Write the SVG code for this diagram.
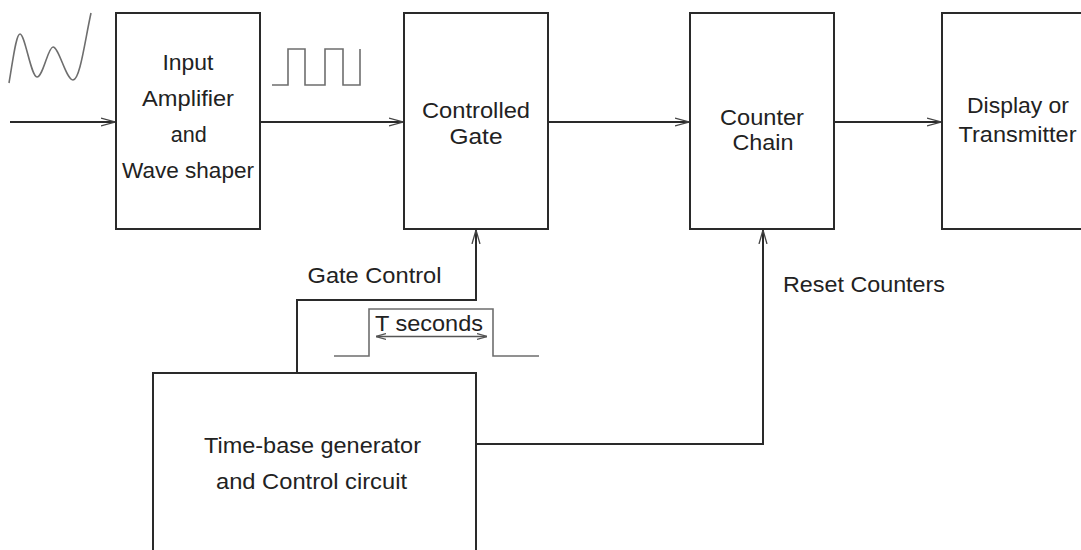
<svg xmlns="http://www.w3.org/2000/svg" width="1081" height="550" viewBox="0 0 1081 550">
<style>
.box{fill:#fff;stroke:#2a2a2a;stroke-width:2}
.conn{fill:none;stroke:#2a2a2a;stroke-width:2}
.wave{fill:none;stroke:#6e6e6e;stroke-width:1.6}
.lbl{font-family:"Liberation Sans",Arial,Helvetica,sans-serif;font-size:22px;fill:#222;text-anchor:middle}
</style>
<defs>
<marker id="arr" viewBox="0 0 14 10" refX="14" refY="5" markerWidth="14" markerHeight="10" markerUnits="userSpaceOnUse" orient="auto">
<path d="M0,1 L14,5 L0,9" fill="none" stroke="#444" stroke-width="1.3"/>
</marker>
<marker id="arrs" viewBox="0 0 10 8" refX="10" refY="4" markerWidth="10" markerHeight="8" markerUnits="userSpaceOnUse" orient="auto-start-reverse">
<path d="M0,1 L10,4 L0,7" fill="none" stroke="#555" stroke-width="1.2"/>
</marker>
</defs>
<rect width="1081" height="550" fill="#fff"/>

<g id="waveforms">
<path class="wave" d="M9,83 C13,60 16,34 20,34 C25,34 31,77 37,77 C43,77 48,47 53,47 C59,47 66,80 73,80 C80,80 85,40 91,13"/>
<path class="wave" d="M272,85 H288 V49 H305 V85 H325 V49 H343 V85 H360 V49"/>
<path class="wave" d="M334,356 H369 V309 H493 V356 H539"/>
</g>

<g id="connectors">
<path class="conn" d="M10,122 H115" marker-end="url(#arr)"/>
<path class="conn" d="M260,122 H403" marker-end="url(#arr)"/>
<path class="conn" d="M548,122 H689" marker-end="url(#arr)"/>
<path class="conn" d="M834,122 H941" marker-end="url(#arr)"/>
<path class="conn" d="M297,373 V300 H476 V230" marker-end="url(#arr)"/>
<path class="conn" d="M476,444 H763 V230" marker-end="url(#arr)"/>
<path d="M376,336.5 H487" fill="none" stroke="#555" stroke-width="1.3" marker-start="url(#arrs)" marker-end="url(#arrs)"/>
</g>

<g id="input-amplifier">
<rect class="box" x="116" y="13" width="144" height="216"/>
<text class="lbl" x="188" y="70" textLength="51" lengthAdjust="spacingAndGlyphs">Input</text>
<text class="lbl" x="188" y="106" textLength="92" lengthAdjust="spacingAndGlyphs">Amplifier</text>
<text class="lbl" x="188.7" y="142" textLength="36" lengthAdjust="spacingAndGlyphs">and</text>
<text class="lbl" x="188" y="178" textLength="132" lengthAdjust="spacingAndGlyphs">Wave shaper</text>
</g>

<g id="controlled-gate">
<rect class="box" x="404" y="13" width="144" height="216"/>
<text class="lbl" x="476" y="118" textLength="108" lengthAdjust="spacingAndGlyphs">Controlled</text>
<text class="lbl" x="476" y="143.5" textLength="53" lengthAdjust="spacingAndGlyphs">Gate</text>
</g>

<g id="counter-chain">
<rect class="box" x="690" y="13" width="144" height="216"/>
<text class="lbl" x="762" y="125" textLength="84" lengthAdjust="spacingAndGlyphs">Counter</text>
<text class="lbl" x="763" y="150" textLength="61" lengthAdjust="spacingAndGlyphs">Chain</text>
</g>

<g id="display">
<rect class="box" x="942" y="13" width="160" height="216"/>
<text class="lbl" x="1018" y="113" textLength="102" lengthAdjust="spacingAndGlyphs">Display or</text>
<text class="lbl" x="1017.5" y="142" textLength="118" lengthAdjust="spacingAndGlyphs">Transmitter</text>
</g>

<g id="time-base">
<rect class="box" x="153" y="373" width="323" height="200"/>
<text class="lbl" x="312.5" y="453" textLength="217" lengthAdjust="spacingAndGlyphs">Time-base generator</text>
<text class="lbl" x="311.5" y="489" textLength="191" lengthAdjust="spacingAndGlyphs">and Control circuit</text>
</g>

<g id="labels">
<text class="lbl" x="374.5" y="283" textLength="134" lengthAdjust="spacingAndGlyphs">Gate Control</text>
<text class="lbl" x="429" y="331" textLength="108" lengthAdjust="spacingAndGlyphs">T seconds</text>
<text class="lbl" x="864" y="292" textLength="162" lengthAdjust="spacingAndGlyphs">Reset Counters</text>
</g>
</svg>
